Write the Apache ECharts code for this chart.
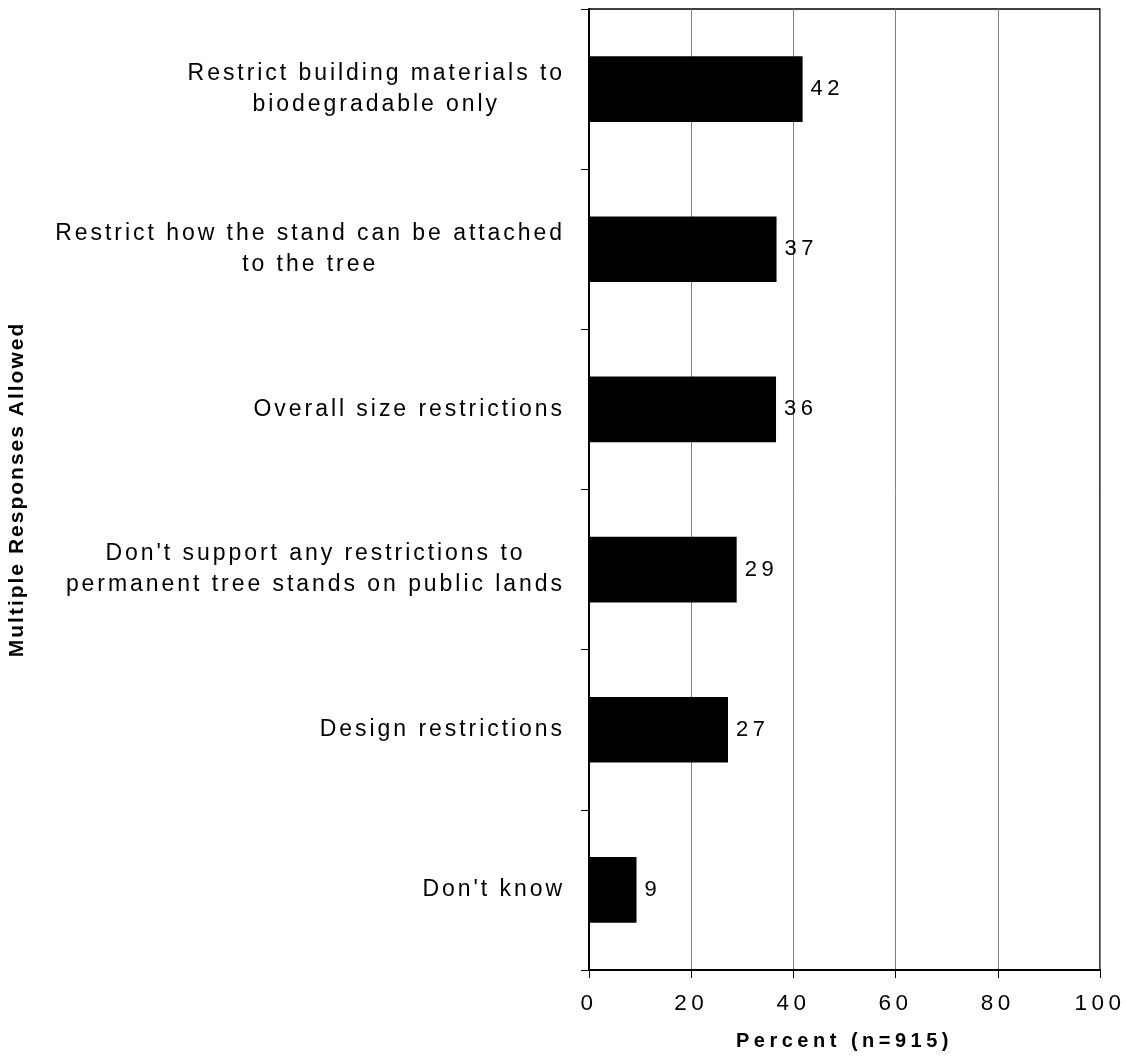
<!DOCTYPE html>
<html>
<head>
<meta charset="utf-8">
<script src="https://cdn.jsdelivr.net/npm/echarts@6/dist/echarts.min.js"></script>
<style>
html,body{margin:0;padding:0;background:#fff;}
#chart{width:1126px;height:1061px;}
</style>
</head>
<body>
<div id="chart"></div>
<script>
// ---- data ----
const categories = [
  "Restrict building materials to\nbiodegradable only",
  "Restrict how the stand can be attached\nto the tree",
  "Overall size restrictions",
  "Don't support any restrictions to\npermanent tree stands on public lands",
  "Design restrictions",
  "Don't know"
];
const values = [41.8, 36.7, 36.6, 28.9, 27.2, 9.3];
const valueLabels = [42, 37, 36, 29, 27, 9];
const xTicks = [0, 20, 40, 60, 80, 100];
const xName = "Percent (n=915)";
const yName = "Multiple Responses Allowed";

// ---- wide letter spacing like the original export ----
(function () {
  const P = CanvasRenderingContext2D.prototype;
  if (!('letterSpacing' in P)) return;
  function sp(t) {
    t = String(t);
    if (t.indexOf('Multiple') === 0) return '2px';
    if (t.indexOf('Percent') === 0) return '4.5px';
    if (/^[0-9]+$/.test(t)) return '4.5px';
    return '2.95px';
  }
  const mt = P.measureText, ft = P.fillText;
  P.measureText = function (t) { this.letterSpacing = sp(t); return mt.apply(this, arguments); };
  P.fillText = function (t) { this.letterSpacing = sp(t); return ft.apply(this, arguments); };
})();

const FONT = "'Liberation Sans', Arial, sans-serif";
const chart = echarts.init(document.getElementById('chart'), null, {renderer: 'canvas'});
chart.setOption({
  animation: false,
  backgroundColor: '#ffffff',
  grid: {left: 589, right: 26, top: 9, bottom: 91, outerBoundsMode: 'none', containLabel: false,
    show: true, borderColor: '#000', borderWidth: 1.5, backgroundColor: 'transparent'},
  xAxis: {
    type: 'value', min: 0, max: 100, interval: 20,
    name: xName, nameLocation: 'middle', nameGap: 60,
    nameTextStyle: {fontFamily: FONT, fontWeight: 'bold', fontSize: 20, color: '#000'},
    axisLine: {show: true, lineStyle: {color: '#000', width: 2}},
    axisTick: {show: true, length: 8, lineStyle: {color: '#000', width: 1}},
    axisLabel: {margin: 21, fontFamily: FONT, fontSize: 22.5, color: '#000',
      formatter: function (v) { return xTicks.indexOf(v) >= 0 ? String(v) : ''; }},
    splitLine: {show: true, lineStyle: {color: '#7f7f7f', width: 1}}
  },
  yAxis: {
    type: 'category', inverse: true, data: categories,
    name: yName, nameLocation: 'middle', nameGap: 560, nameRotate: 90,
    nameTextStyle: {fontFamily: FONT, fontWeight: 'bold', fontSize: 21, color: '#000'},
    axisLine: {show: true, lineStyle: {color: '#000', width: 2}},
    axisTick: {show: true, length: 8, lineStyle: {color: '#000', width: 1}},
    axisLabel: {
      margin: 24, align: 'right', fontFamily: FONT, fontSize: 23, color: '#000',
      formatter: function (v) { return v.split('\n').map(function (l) { return '{c|' + l + '}'; }).join('\n'); },
      rich: {c: {align: 'center', fontFamily: FONT, fontSize: 23, color: '#000', lineHeight: 31}}
    },
    splitLine: {show: false}
  },
  series: [{
    type: 'bar', data: values, barWidth: '41%',
    itemStyle: {color: '#000'},
    label: {show: true, position: 'right', distance: 8, fontFamily: FONT, fontSize: 22, color: '#000',
      formatter: function (p) { return String(valueLabels[p.dataIndex]); }}
  }]
});
</script>
</body>
</html>
